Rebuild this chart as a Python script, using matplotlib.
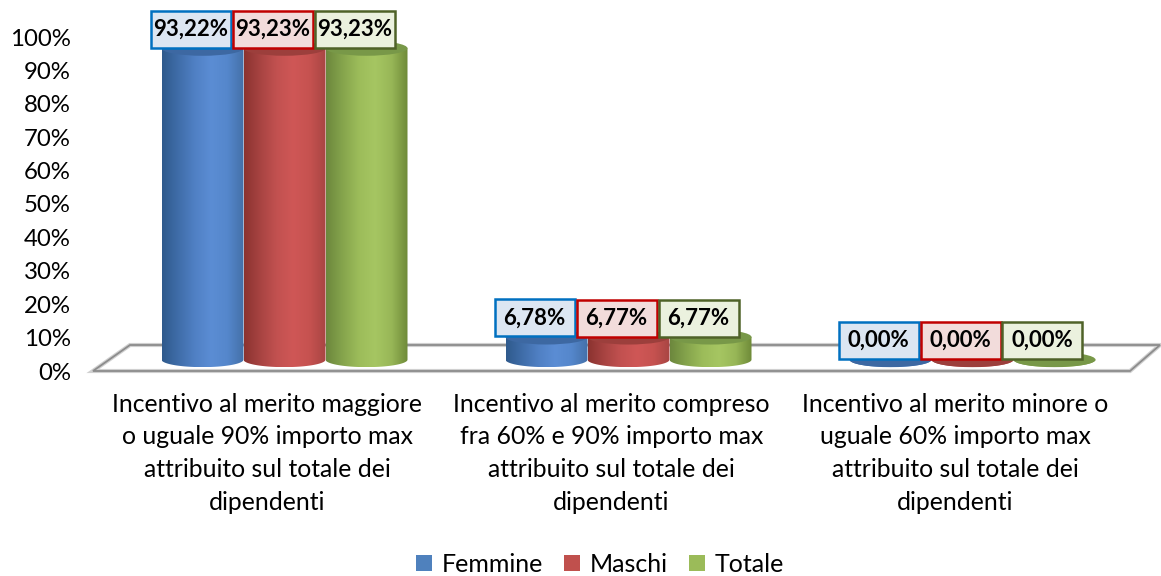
import numpy as np
import matplotlib
matplotlib.use("Agg")
import matplotlib.pyplot as plt
from matplotlib.patches import Ellipse, Polygon, Patch, PathPatch, Rectangle
from matplotlib.path import Path
from matplotlib.colors import LinearSegmentedColormap

plt.rcParams['font.family'] = ['Lato', 'DejaVu Sans']

# ---------------- data ----------------
categories = [
    "Incentivo al merito maggiore\no uguale 90% importo max\nattribuito sul totale dei\ndipendenti",
    "Incentivo al merito compreso\nfra 60% e 90% importo max\nattribuito sul totale dei\ndipendenti",
    "Incentivo al merito minore o\nuguale 60% importo max\nattribuito sul totale dei\ndipendenti",
]
series_names = ["Femmine", "Maschi", "Totale"]
femmine = [93.22, 6.78, 0.00]
maschi = [93.23, 6.77, 0.00]
totale = [93.23, 6.77, 0.00]
series_values = [femmine, maschi, totale]
yticks = list(range(0, 101, 10))
ytick_labels = [f"{t}%" for t in yticks]

# ---------------- styles ----------------
grad_colors = [
    ["#2F5A8C", "#3F6DA9", "#5080C4", "#5B8DD4", "#5587CC", "#4470A8"],
    ["#8B3330", "#A84442", "#C25150", "#CF5756", "#C65250", "#A84543"],
    ["#6C873D", "#85A44C", "#9CBC5A", "#A6C662", "#98B757", "#6E8A38"],
]
top_colors = ["#3D68A2", "#9C3F3C", "#789848"]
legend_colors = ["#4F81BD", "#C0504D", "#9BBB59"]
box_edge = ["#0070C0", "#C00000", "#4F6228"]
box_face = ["#DCE6F2", "#F2DCDB", "#EBF1DE"]

W, H = 1161, 576
fig = plt.figure(figsize=(W / 100, H / 100), dpi=100)

# plot-area geometry in pixels
px_left, px_right = 93, 1160
px_y0, px_y100 = 371, 37
px_per_pct = (px_y0 - px_y100) / 100.0
px_per_cat = 344.0
px_cat0 = 284.5

ax = fig.add_axes([px_left / W, 1 - px_y0 / H,
                   (px_right - px_left) / W, (px_y0 - px_y100) / H])
xlim = ((px_left - px_cat0) / px_per_cat, (px_right - px_cat0) / px_per_cat)

bar_w = 82 / px_per_cat
base_y = 3.4           # centre of the cylinder bases (depth into the floor)
eh = 7.5 / px_per_pct  # ellipse half-height

# floor parallelogram
depth = 26 / px_per_pct
fl = [(xlim[0], 0), ((1130 - px_cat0) / px_per_cat, 0),
      (xlim[1], depth), ((130 - px_cat0) / px_per_cat, depth)]
ax.add_patch(Polygon(fl, closed=True, fill=False, edgecolor="#D0D0D0",
                     lw=3.0, zorder=1, clip_on=False, joinstyle='miter'))
ax.add_patch(Polygon(fl, closed=True, fill=False, edgecolor="#8C8C8C",
                     lw=1.3, zorder=1.1, clip_on=False, joinstyle='miter'))

t = np.linspace(np.pi, 2 * np.pi, 60)
for s, vals in enumerate(series_values):
    cmap = LinearSegmentedColormap.from_list(f"c{s}", grad_colors[s])
    for i, v in enumerate(vals):
        cx = i + (s - 1) * bar_w
        yt = base_y + v
        xl, xr = cx - bar_w / 2, cx + bar_w / 2
        z = 2 + i * 0.1 + s * 0.01
        ex = cx + (bar_w / 2) * np.cos(t)
        ey = base_y + eh * np.sin(t)
        verts = [(xl, yt)] + list(zip(ex, ey)) + [(xr, yt), (xl, yt)]
        codes = [Path.MOVETO] + [Path.LINETO] * (len(verts) - 2) + [Path.CLOSEPOLY]
        path = Path(verts, codes)
        clip = PathPatch(path, facecolor="none", edgecolor="none", transform=ax.transData)
        ax.add_patch(clip)
        grad = np.linspace(0, 1, 256).reshape(1, -1)
        im = ax.imshow(grad, cmap=cmap, aspect="auto",
                       extent=[xl, xr, base_y - eh, yt], zorder=z,
                       interpolation="bilinear")
        im.set_clip_path(clip)
        ax.add_patch(Ellipse((cx, yt), bar_w, 2 * eh, facecolor=top_colors[s],
                             edgecolor="none", zorder=z + 0.001))

# data labels (fixed-size boxes)
box_w = 80 / px_per_cat
box_h = 37 / px_per_pct
for s, vals in enumerate(series_values):
    for i, v in enumerate(vals):
        cx = i + (s - 1) * bar_w - 12 / px_per_cat
        ytxt = base_y + v + 19 / px_per_pct
        lab = f"{v:.2f}%".replace(".", ",")
        ax.add_patch(Rectangle((cx - box_w / 2, ytxt - box_h / 2), box_w, box_h,
                               facecolor=box_face[s], edgecolor=box_edge[s],
                               linewidth=1.8, zorder=9.5, clip_on=False))
        ax.text(cx, ytxt, lab, ha="center", va="center", fontsize=16,
                fontweight="bold", color="black", zorder=10, clip_on=False)

# category labels
for i, c in enumerate(categories):
    ax.text(i - 17 / px_per_cat, -(393 - px_y0) / px_per_pct, c,
            ha="center", va="top", fontsize=17.8, linespacing=1.5,
            color="black", clip_on=False)

ax.set_xlim(*xlim)
ax.set_ylim(0, 100)
ax.set_yticks(yticks)
ax.set_yticklabels(ytick_labels, fontsize=17.3)
ax.set_xticks([])
ax.tick_params(axis="y", length=0, pad=16)
for sp in ax.spines.values():
    sp.set_visible(False)
ax.patch.set_alpha(0)

handles = [Patch(facecolor=legend_colors[k], edgecolor="none", label=series_names[k])
           for k in range(3)]
fig.legend(handles=handles, loc="center", bbox_to_anchor=(600 / W, 1 - 564 / H),
           ncol=3, frameon=False, fontsize=18, handlelength=0.62, handleheight=0.62,
           handletextpad=0.4, columnspacing=0.85)

fig.savefig("out.png", dpi=100)
